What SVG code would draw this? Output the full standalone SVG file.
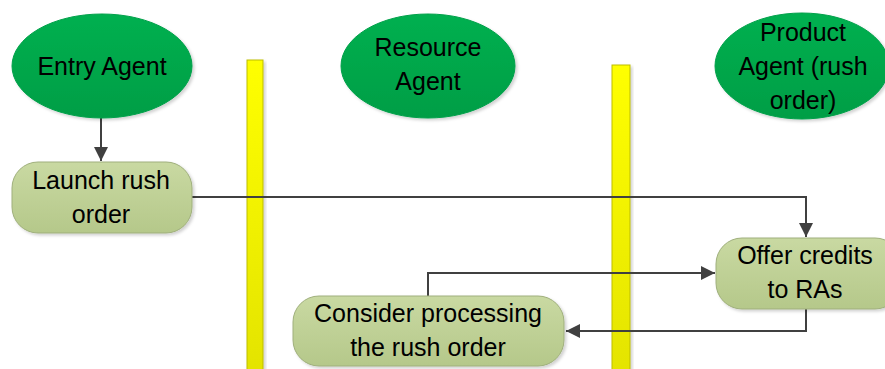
<svg xmlns="http://www.w3.org/2000/svg" width="885" height="369" viewBox="0 0 885 369">
<defs>
<linearGradient id="gEll" x1="0" y1="0" x2="0" y2="1"><stop offset="0" stop-color="#00B050"/><stop offset="1" stop-color="#009E45"/></linearGradient>
<linearGradient id="gBox" x1="0" y1="0" x2="0" y2="1"><stop offset="0" stop-color="#C9D9A2"/><stop offset="1" stop-color="#B5C88A"/></linearGradient>
<linearGradient id="gBar" x1="0" y1="0" x2="0" y2="1"><stop offset="0" stop-color="#FFFF00"/><stop offset="1" stop-color="#E3E300"/></linearGradient>
<filter id="sh" x="-10%" y="-10%" width="130%" height="130%"><feDropShadow dx="2" dy="2" stdDeviation="1.5" flood-color="#000" flood-opacity="0.18"/></filter>
<marker id="ah" viewBox="0 0 10 10" refX="10" refY="5" markerWidth="5.5" markerHeight="5.5" orient="auto" markerUnits="userSpaceOnUse"><path d="M0,0 L10,5 L0,10 z" fill="#404040"/></marker>
<marker id="arr" viewBox="0 0 12 12" refX="12" refY="6" markerWidth="14" markerHeight="14" orient="auto" markerUnits="userSpaceOnUse"><path d="M0,0 L12,6 L0,12 z" fill="#404040"/></marker>
</defs>
<style>
.ell{fill:url(#gEll);stroke:#00A04A;stroke-width:1;filter:url(#sh)}
.box{fill:url(#gBox);stroke:#9FAF7C;stroke-width:1;filter:url(#sh)}
.bar{fill:url(#gBar);stroke:#BDBD00;stroke-width:1;filter:url(#sh)}
.t{font-family:"Liberation Sans",Arial,sans-serif;font-size:25px;fill:#000;text-anchor:middle}
.c{fill:none;stroke:#404040;stroke-width:2}
</style>
<g id="bar1"><rect class="bar" x="247" y="60" width="16" height="320"/></g>
<g id="bar2"><rect class="bar" x="612" y="65" width="18" height="320"/></g>
<g id="connectors">
<path class="c" d="M101,118 V161" marker-end="url(#arr)"/>
<path class="c" d="M192,197 H806 V237" marker-end="url(#arr)"/>
<path class="c" d="M428,296 V273 H715" marker-end="url(#arr)"/>
<path class="c" d="M806,309 V331 H566" marker-end="url(#arr)"/>
</g>
<g id="entry-agent"><ellipse class="ell" cx="102" cy="66" rx="90" ry="52"/><text class="t" x="102" y="75">Entry Agent</text></g>
<g id="resource-agent"><ellipse class="ell" cx="428" cy="66" rx="87" ry="52"/><text class="t" x="428" y="56">Resource</text><text class="t" x="428" y="90">Agent</text></g>
<g id="product-agent"><ellipse class="ell" cx="802" cy="66" rx="87" ry="53"/><text class="t" x="803" y="41">Product</text><text class="t" x="803" y="75">Agent (rush</text><text class="t" x="803" y="109">order)</text></g>
<g id="launch"><rect class="box" x="12" y="162" width="180" height="71" rx="26"/><text class="t" x="101" y="189">Launch rush</text><text class="t" x="101" y="223">order</text></g>
<g id="offer"><rect class="box" x="716" y="238" width="185" height="71" rx="26"/><text class="t" x="805" y="264">Offer credits</text><text class="t" x="805" y="298">to RAs</text></g>
<g id="consider"><rect class="box" x="293" y="296" width="271" height="70" rx="26"/><text class="t" x="428" y="322">Consider processing</text><text class="t" x="428" y="356">the rush order</text></g>
</svg>
